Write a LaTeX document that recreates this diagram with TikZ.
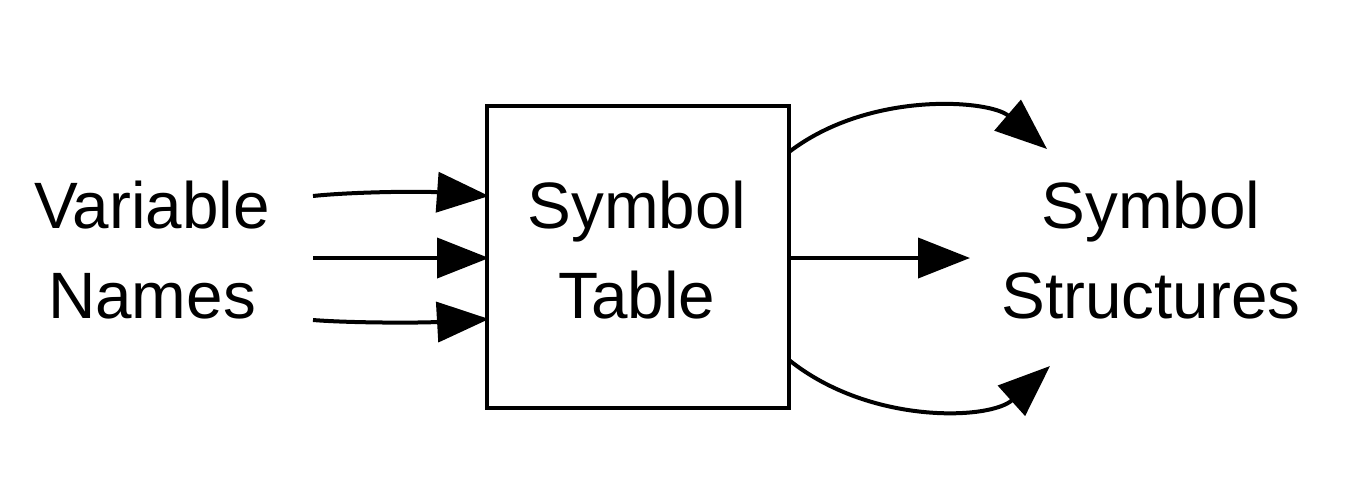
\documentclass[tikz,border=0pt]{standalone}
\usepackage{fontspec}
\setmainfont{Liberation Sans}
\usetikzlibrary{arrows.meta}
\begin{document}
\begin{tikzpicture}[x=0.5pt,y=-0.5pt,
  lbl/.style={align=center,inner sep=0pt,font=\fontsize{32.8}{45}\selectfont},
  conn/.style={line width=2pt,-{Triangle[length=26pt,width=20pt]}},
  boxst/.style={draw,line width=2pt,minimum width=151pt,minimum height=151pt,inner sep=0pt}]
\useasboundingbox (0,0) rectangle (1358,499);
\node[boxst] (st) at (638,257) {};
\node[lbl] (tab) at (637,250) {Symbol\\Table};
\node[lbl] (var) at (152,250) {Variable\\Names};
\node[lbl] (out) at (1151,250) {Symbol\\Structures};
\coordinate (a1) at (313,196);
\coordinate (a2) at (313,258);
\coordinate (a3) at (313,320);
\coordinate (t1) at (489,196);
\coordinate (t2) at (489,258);
\coordinate (t3) at (489,319);
\coordinate (s1) at (789,152);
\coordinate (s2) at (789,258);
\coordinate (s3) at (789,360);
\coordinate (e1) at (1047,149);
\coordinate (e2) at (970,258);
\coordinate (e3) at (1050,366);
\draw[conn] (a1) .. controls (350,192) and (420,191) .. (t1);
\draw[conn] (a2) -- (t2);
\draw[conn] (a3) .. controls (350,323) and (420,323) .. (t3);
\draw[conn] (s1) .. controls (870,90) and (990,100) .. (e1);
\draw[conn] (s2) -- (e2);
\draw[conn] (s3) .. controls (870,425) and (990,420) .. (e3);
\end{tikzpicture}
\end{document}
